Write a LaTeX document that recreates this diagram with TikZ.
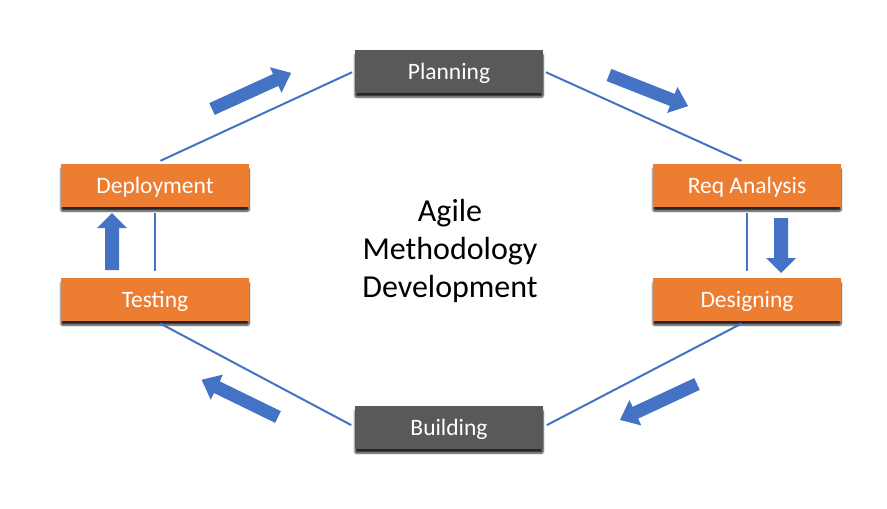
\documentclass[tikz,border=0pt]{standalone}
\usepackage{fontspec}
\setmainfont{Carlito}
\usetikzlibrary{shadows.blur}
\definecolor{stageorange}{HTML}{ED7D31}
\definecolor{stagegray}{HTML}{595959}
\definecolor{linkblue}{HTML}{4472C4}
\tikzset{
  stagebox/.style={rectangle, minimum width=188pt, minimum height=43pt, inner sep=0pt,
    text=white, font=\fontsize{23.5}{26}\selectfont, text depth=0pt,
    blur shadow={shadow xshift=0pt, shadow yshift=-4.5pt, shadow blur steps=6, shadow opacity=85, shadow blur extra rounding=1pt}},
  orangebox/.style={stagebox, fill=stageorange},
  graybox/.style={stagebox, fill=stagegray},
  link/.style={draw=linkblue, line width=2pt},
  pics/blockarrow/.style={code={
    \fill[linkblue] (0,-6.5) -- (#1-17,-6.5) -- (#1-17,-14) -- (#1,0) -- (#1-17,14) -- (#1-17,6.5) -- (0,6.5) -- cycle;}},
  pics/vblockarrow/.style={code={
    \fill[linkblue] (0,-7) -- (#1-15,-7) -- (#1-15,-15) -- (#1,0) -- (#1-15,15) -- (#1-15,7) -- (0,7) -- cycle;}}
}
\begin{document}
\begin{tikzpicture}[x=1pt,y=-1pt]
\useasboundingbox (0,0) rectangle (887,509);
\node[graybox]   (plan) at (449,71)  {Planning};
\node[orangebox] (req)  at (747,185) {Req Analysis};
\node[orangebox] (des)  at (747,299) {Designing};
\node[graybox]   (bld)  at (449,427) {Building};
\node[orangebox] (tst)  at (155,299) {Testing};
\node[orangebox] (dep)  at (155,185) {Deployment};
\node[align=center, font=\fontsize{32}{38}\selectfont] (title) at (450,251) {Agile\\Methodology\\Development};
\draw[link, shorten <=6pt, shorten >=3pt] (dep.north) -- (plan.west);
\draw[link, shorten <=3pt, shorten >=6pt] (plan.east) -- (req.north);
\draw[link, shorten <=6pt, shorten >=6pt] (req.south) -- (des.north);
\draw[link, shorten <=6pt, shorten >=4pt] (des.south) -- (bld.east);
\draw[link, shorten <=4pt, shorten >=6pt] (bld.west) -- (tst.south);
\draw[link, shorten <=6pt, shorten >=6pt] (tst.north) -- (dep.south);
\pic[rotate=24.5] at (212,109) {blockarrow=87};
\pic[rotate=-21.5] at (609,75) {blockarrow=85};
\pic[rotate=-90] at (781,218) {vblockarrow=55};
\pic[rotate=-155] at (697,384) {blockarrow=85};
\pic[rotate=154] at (278,417) {blockarrow=85};
\pic[rotate=90] at (112,270) {vblockarrow=57};
\end{tikzpicture}
\end{document}
